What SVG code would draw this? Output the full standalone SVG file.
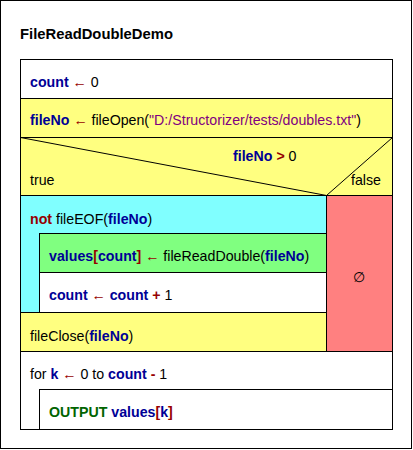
<svg xmlns="http://www.w3.org/2000/svg" width="413" height="450" viewBox="0 0 413 450">
<style>
text{font-family:"Liberation Sans",Arial,sans-serif;font-size:14.2px;fill:#000}
.v{fill:#000096;font-weight:bold}
.o{fill:#960000;font-weight:bold}
.s{fill:#800080}
.k{fill:#006400;font-weight:bold}
.b{stroke:#000;stroke-width:1}
</style>
<rect x="0.5" y="0.5" width="411" height="448" fill="#fff" class="b"/>
<g id="title"><text x="20" y="39" style="font-weight:bold;font-size:14.8px">FileReadDoubleDemo</text></g>
<g id="n1">
<rect x="20.5" y="59.5" width="372" height="39" fill="#fff" class="b"/>
<text x="30" y="87"><tspan class="v">count</tspan> <tspan class="o">←</tspan> 0</text>
</g>
<g id="n2">
<rect x="20.5" y="98.5" width="372" height="39" fill="#ffff80" class="b"/>
<text x="30" y="125"><tspan class="v">fileNo</tspan> <tspan class="o">←</tspan> fileOpen(<tspan class="s">"D:/Structorizer/tests/doubles.txt"</tspan>)</text>
</g>
<g id="n3">
<rect x="20.5" y="137.5" width="372" height="58" fill="#ffff80" class="b"/>
<text x="233" y="161"><tspan class="v">fileNo</tspan> <tspan class="o">&gt;</tspan> 0</text>
<text x="30" y="185">true</text>
<text x="381" y="185" text-anchor="end">false</text>
</g>
<g id="n4">
<rect x="20.5" y="195.5" width="306" height="117" fill="#80ffff" class="b"/>
<text x="30" y="224"><tspan class="o">not</tspan> fileEOF(<tspan class="v">fileNo</tspan>)</text>
</g>
<g id="n5">
<rect x="39.5" y="233.5" width="287" height="39" fill="#80ff80" class="b"/>
<text x="49" y="261"><tspan class="v">values</tspan><tspan class="o">[</tspan><tspan class="v">count</tspan><tspan class="o">]</tspan> <tspan class="o">←</tspan> fileReadDouble(<tspan class="v">fileNo</tspan>)</text>
</g>
<g id="n6">
<rect x="39.5" y="272.5" width="287" height="40" fill="#fff" class="b"/>
<text x="49" y="300"><tspan class="v">count</tspan> <tspan class="o">←</tspan> <tspan class="v">count</tspan> <tspan class="o">+</tspan> 1</text>
</g>
<g id="n7">
<rect x="20.5" y="312.5" width="306" height="39" fill="#ffff80" class="b"/>
<text x="30" y="341">fileClose(<tspan class="v">fileNo</tspan>)</text>
</g>
<g id="n8">
<rect x="326.5" y="195.5" width="66" height="156" fill="#ff8080" class="b"/>
<text x="359" y="282" text-anchor="middle">∅</text>
</g>
<g id="n9">
<rect x="20.5" y="351.5" width="372" height="78" fill="#fff" class="b"/>
<text x="30" y="379">for <tspan class="v">k</tspan> <tspan class="o">←</tspan> 0 to <tspan class="v">count</tspan> <tspan class="o">-</tspan> 1</text>
</g>
<g id="n10">
<rect x="39.5" y="389.5" width="353" height="40" fill="#fff" class="b"/>
<text x="49" y="417"><tspan class="k">OUTPUT</tspan> <tspan class="v">values</tspan><tspan class="o">[</tspan><tspan class="v">k</tspan><tspan class="o">]</tspan></text>
</g>
<g id="connectors">
<path d="M20.5 137.5 L326.5 195.5 L392.5 137.5" fill="none" class="b"/>
</g>
</svg>
